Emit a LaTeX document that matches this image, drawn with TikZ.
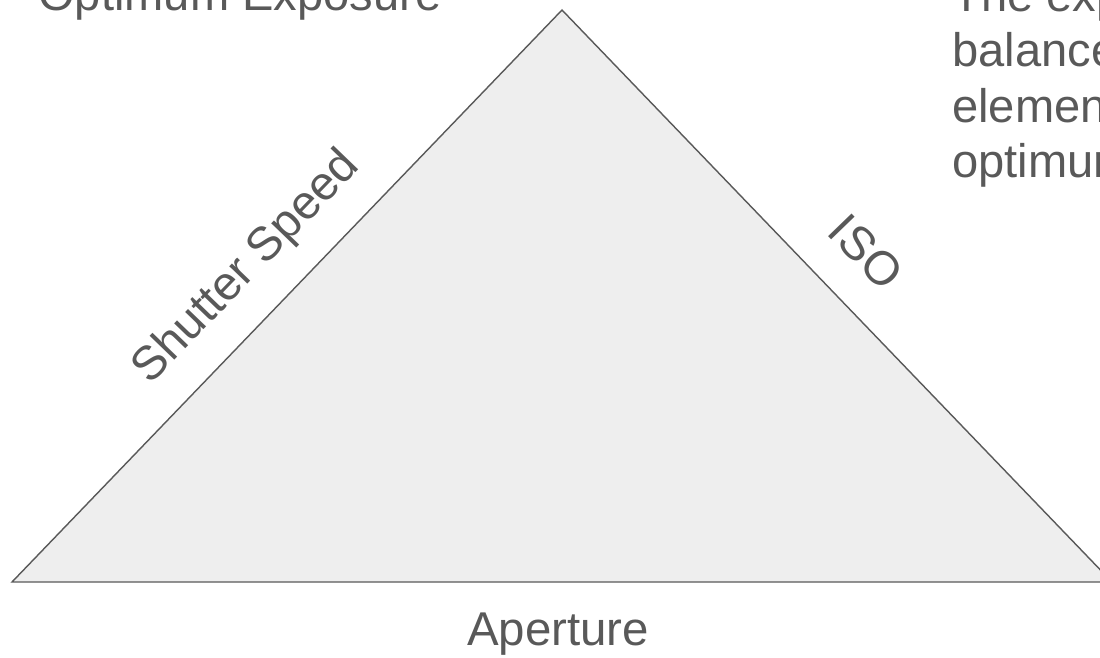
\documentclass[tikz,border=0pt]{standalone}
\usepackage{fontspec}
\setmainfont{Liberation Sans}
\definecolor{inkgray}{HTML}{595959}
\definecolor{paneFill}{HTML}{EEEEEE}
\tikzstyle{side}=[text=inkgray,font=\fontsize{27}{31}\selectfont,inner sep=0pt]
\tikzstyle{note}=[text=inkgray,font=\fontsize{26.8}{31.5}\selectfont,anchor=base west,inner sep=0pt]
\newcommand{\tikzpxscale}{0.02cm}

\begin{document}
\begin{tikzpicture}[x=\tikzpxscale,y=-\tikzpxscale]
  \useasboundingbox (0,0) rectangle (1100,657);
  \clip (0,0) rectangle (1100,657);
  \coordinate (T) at (562,10);
  \coordinate (L) at (12,582);
  \coordinate (R) at (1112,582);
  \filldraw[fill=paneFill,draw=inkgray,line width=0.8pt] (L) -- (T) -- (R) -- cycle;
  % side labels
  \node[side,rotate=46] (shutter) at (247,268) {Shutter Speed};
  \node[side,rotate=-46] (iso) at (866,252) {ISO};
  \node[side] (aperture) at (558,634) {Aperture};
  \node[note] (title) at (38,10) {Optimum Exposure};
  \foreach \notetext [count=\i] in {The exposure,balances,elements,optimum}
    \node[note] (note\i) at (952,{11+55.5*(\i-1)}) {\notetext};
\end{tikzpicture}
\end{document}
